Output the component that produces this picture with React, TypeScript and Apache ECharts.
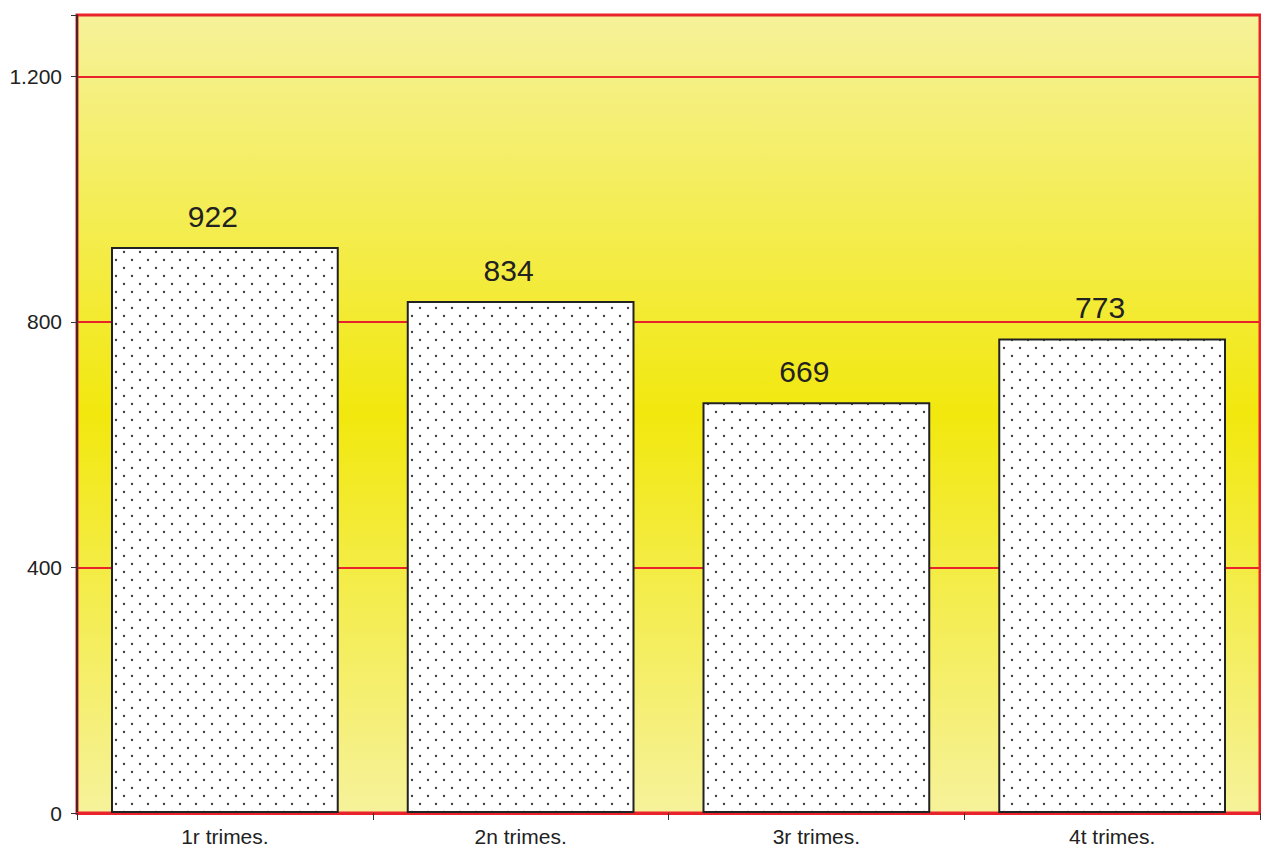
import React, { useEffect, useRef } from "react";
import * as echarts from "echarts";

const categories = ["1r trimes.", "2n trimes.", "3r trimes.", "4t trimes."];
const values = [922, 834, 669, 773];
const yTicks = [0, 400, 800, 1200];

const dotTile =
  "data:image/svg+xml;charset=utf-8," +
  encodeURIComponent(
    '<svg xmlns="http://www.w3.org/2000/svg" width="16" height="16">' +
      '<rect width="16" height="16" fill="#ffffff"/>' +
      '<circle cx="4" cy="4" r="1.15" fill="#333"/>' +
      '<circle cx="12" cy="12" r="1.15" fill="#333"/>' +
      "</svg>"
  );

const FONT = "'Liberation Sans', Arial, sans-serif";

export default function App() {
  const ref = useRef<HTMLDivElement>(null);
  useEffect(() => {
    const chart = echarts.init(ref.current!, null, { renderer: "svg" });
    chart.setOption({
      animation: false,
      grid: {
        left: 77,
        top: 15,
        right: 1,
        bottom: 35,
        show: true,
        backgroundColor: new echarts.graphic.LinearGradient(0, 0, 0, 1, [
          { offset: 0, color: "#F6F29A" },
          { offset: 0.5, color: "#F2E80E" },
          { offset: 1, color: "#F6F29A" },
        ]),
        borderColor: "#E8232B",
        borderWidth: 3,
      },
      xAxis: {
        type: "category",
        data: categories,
        axisLine: { show: true, lineStyle: { color: "#E8232B", width: 3 } },
        axisTick: { show: true, length: 7, lineStyle: { color: "#333", width: 1 } },
        axisLabel: {
          color: "#222",
          fontSize: 21,
          fontFamily: FONT,
          margin: 13,
        },
      },
      yAxis: {
        type: "value",
        min: 0,
        max: 1300,
        interval: 400,
        axisLine: { show: true, lineStyle: { color: "#222", width: 1.5 } },
        axisTick: { show: true, length: 6, lineStyle: { color: "#333" } },
        axisLabel: {
          color: "#222",
          fontSize: 21,
          fontFamily: FONT,
          margin: 15,
          formatter: (v: number) =>
            yTicks.includes(v) ? String(v).replace(/\B(?=(\d{3})+(?!\d))/g, ".") : "",
        },
        splitLine: { show: true, lineStyle: { color: "#E8232B", width: 2 } },
      },
      series: [
        {
          type: "bar",
          data: values,
          barCategoryGap: "23%",
          itemStyle: {
            color: { image: dotTile, repeat: "repeat" },
            borderColor: "#222",
            borderWidth: 2,
          },
          label: {
            show: true,
            position: "top",
            distance: 16,
            offset: [-12, 0],
            color: "#222",
            fontSize: 30,
            fontFamily: FONT,
          },
        },
      ],
    });
    return () => chart.dispose();
  }, []);
  return (
    <div
      ref={ref}
      style={{ position: "fixed", left: 0, top: 0, width: 1261, height: 848, background: "#fff" }}
    />
  );
}
